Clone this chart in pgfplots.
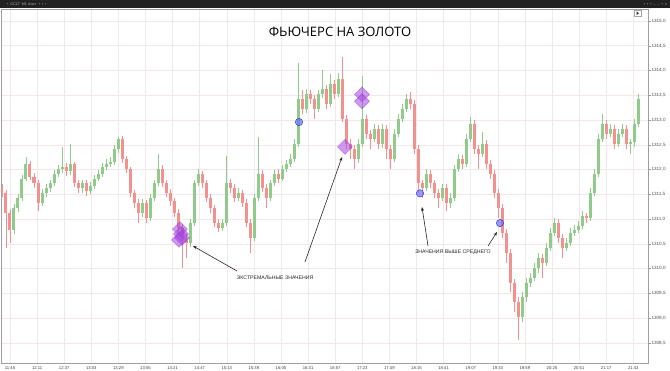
\documentclass[border=0pt]{standalone}
\usepackage{pgfplots}
\pgfplotsset{compat=1.18}
\usepackage{pgfplotstable}
\usetikzlibrary{arrows.meta}
\usepackage{fontspec}
\setmainfont{Liberation Sans}
\newfontfamily\titlefont{Open Sans}
\definecolor{cgreen}{RGB}{145,203,140}
\definecolor{cred}{RGB}{243,145,145}
\definecolor{gridc}{RGB}{243,231,233}
\definecolor{cblue}{RGB}{100,105,245}
\definecolor{cblueD}{RGB}{55,65,215}
\definecolor{cpurp}{RGB}{165,70,225}
\definecolor{cpurpD}{RGB}{140,50,205}
\definecolor{tbar}{RGB}{34,34,34}

\pgfplotstableread{
x O H L C
2 1311.60 1311.70 1311.44 1311.52
6 1311.52 1311.58 1310.42 1311.12
10 1311.12 1311.20 1310.52 1310.78
14 1310.78 1311.30 1310.70 1311.22
18 1311.22 1311.50 1311.14 1311.42
22 1311.42 1311.90 1311.36 1311.82
26 1311.82 1312.26 1311.76 1312.12
30 1312.12 1312.18 1311.78 1311.86
34 1311.86 1311.94 1311.62 1311.72
38 1311.72 1311.78 1311.16 1311.32
42 1311.32 1311.60 1311.26 1311.52
46 1311.52 1311.70 1311.44 1311.62
50 1311.62 1311.80 1311.54 1311.72
54 1311.72 1312.00 1311.66 1311.92
58 1311.92 1312.10 1311.86 1312.02
62 1312.02 1312.46 1311.94 1312.06
66 1312.06 1312.14 1311.88 1311.98
70 1311.98 1312.52 1311.90 1312.12
74 1312.12 1312.16 1311.64 1311.72
78 1311.72 1311.80 1311.52 1311.62
82 1311.62 1311.80 1311.52 1311.72
86 1311.72 1311.78 1311.46 1311.56
90 1311.56 1311.74 1311.50 1311.66
94 1311.66 1311.90 1311.60 1311.82
98 1311.82 1312.00 1311.76 1311.92
102 1311.92 1312.14 1311.86 1312.06
106 1312.06 1312.22 1312.00 1312.12
110 1312.12 1312.26 1312.06 1312.16
114 1312.16 1312.50 1312.10 1312.42
118 1312.42 1312.66 1312.34 1312.62
122 1312.62 1312.68 1312.14 1312.22
126 1312.22 1312.28 1311.94 1312.02
130 1312.02 1312.06 1311.44 1311.52
134 1311.52 1311.58 1311.22 1311.32
138 1311.32 1311.40 1310.92 1311.12
142 1311.12 1311.40 1311.04 1311.32
146 1311.32 1311.38 1310.92 1311.02
150 1311.02 1311.50 1310.96 1311.42
154 1311.42 1311.80 1311.36 1311.72
158 1311.72 1312.32 1311.66 1312.02
162 1312.02 1312.10 1311.64 1311.72
166 1311.72 1311.80 1311.44 1311.52
170 1311.52 1311.60 1311.26 1311.36
174 1311.36 1311.42 1311.04 1311.12
178 1311.12 1311.20 1310.72 1310.82
182 1310.82 1310.90 1310.02 1310.62
186 1310.62 1310.70 1310.22 1310.52
190 1310.52 1311.00 1310.44 1310.92
194 1310.92 1311.80 1310.86 1311.72
198 1311.72 1312.02 1311.66 1311.92
202 1311.92 1311.98 1311.62 1311.72
206 1311.72 1311.80 1311.34 1311.42
210 1311.42 1311.50 1311.12 1311.22
214 1311.22 1311.28 1310.84 1310.92
218 1310.92 1311.00 1310.74 1310.82
222 1310.82 1311.00 1310.76 1310.92
226 1310.92 1312.28 1310.86 1311.72
230 1311.72 1311.82 1311.52 1311.62
234 1311.62 1311.70 1311.34 1311.42
238 1311.42 1311.62 1311.36 1311.52
242 1311.52 1311.58 1311.24 1311.32
246 1311.32 1311.40 1310.84 1310.92
250 1310.92 1311.00 1310.32 1310.62
254 1310.62 1311.50 1310.56 1311.42
258 1311.42 1312.66 1311.36 1311.92
262 1311.92 1312.00 1311.54 1311.62
266 1311.62 1311.70 1311.22 1311.42
270 1311.42 1311.80 1311.36 1311.72
274 1311.72 1312.00 1311.66 1311.92
278 1311.92 1312.02 1311.72 1311.82
282 1311.82 1312.10 1311.76 1312.02
286 1312.02 1312.20 1311.96 1312.12
290 1312.12 1312.32 1312.06 1312.22
294 1312.22 1312.62 1312.16 1312.52
298 1312.52 1314.16 1312.46 1313.42
302 1313.42 1313.60 1313.12 1313.22
306 1313.22 1313.62 1313.14 1313.52
310 1313.52 1313.60 1313.32 1313.42
314 1313.42 1313.50 1313.02 1313.22
318 1313.22 1313.60 1313.16 1313.52
322 1313.52 1314.02 1313.44 1313.62
326 1313.62 1313.70 1313.22 1313.32
330 1313.32 1313.92 1313.26 1313.72
334 1313.72 1313.80 1313.42 1313.52
338 1313.52 1313.96 1313.46 1313.82
342 1313.82 1314.28 1312.96 1313.02
346 1313.02 1313.10 1312.42 1312.52
350 1312.52 1312.62 1312.22 1312.42
354 1312.42 1312.50 1312.02 1312.22
358 1312.22 1312.62 1312.14 1312.52
362 1312.52 1313.88 1312.46 1313.02
366 1313.02 1313.10 1312.62 1312.72
370 1312.72 1312.80 1312.42 1312.62
374 1312.62 1312.92 1312.56 1312.82
378 1312.82 1312.90 1312.42 1312.52
382 1312.52 1312.92 1312.44 1312.82
386 1312.82 1312.90 1312.22 1312.42
390 1312.42 1312.50 1312.02 1312.22
394 1312.22 1312.82 1312.16 1312.72
398 1312.72 1313.12 1312.66 1313.02
402 1313.02 1313.32 1312.96 1313.22
406 1313.22 1313.52 1313.16 1313.42
410 1313.42 1313.56 1313.22 1313.32
414 1313.32 1313.40 1312.32 1312.42
418 1312.42 1312.50 1311.52 1311.72
422 1311.72 1311.80 1311.42 1311.62
426 1311.62 1312.02 1311.56 1311.92
430 1311.92 1312.00 1311.62 1311.72
434 1311.72 1311.80 1311.42 1311.52
438 1311.52 1311.60 1311.22 1311.42
442 1311.42 1311.70 1311.36 1311.62
446 1311.62 1311.70 1311.16 1311.32
450 1311.32 1311.52 1311.22 1311.42
454 1311.42 1312.10 1311.36 1312.02
458 1312.02 1312.32 1311.96 1312.22
462 1312.22 1312.30 1312.02 1312.12
466 1312.12 1312.72 1312.06 1312.62
470 1312.62 1313.06 1312.56 1312.92
474 1312.92 1313.00 1312.32 1312.42
478 1312.42 1312.50 1312.02 1312.32
482 1312.32 1312.76 1312.26 1312.52
486 1312.52 1312.60 1312.02 1312.12
490 1312.12 1312.20 1311.82 1311.92
494 1311.92 1312.00 1311.42 1311.52
498 1311.52 1311.60 1311.02 1311.22
502 1311.22 1311.30 1310.62 1310.72
506 1310.72 1310.80 1310.12 1310.32
510 1310.32 1310.40 1309.52 1309.72
514 1309.72 1309.80 1309.12 1309.32
518 1309.32 1309.42 1308.56 1309.02
522 1309.02 1309.52 1308.92 1309.42
526 1309.42 1309.82 1309.32 1309.72
530 1309.72 1309.92 1309.62 1309.82
534 1309.82 1310.12 1309.76 1310.02
538 1310.02 1310.32 1309.92 1310.22
542 1310.22 1310.30 1309.82 1310.12
546 1310.12 1310.52 1310.06 1310.42
550 1310.42 1310.82 1310.36 1310.72
554 1310.72 1311.02 1310.66 1310.92
558 1310.92 1311.00 1310.52 1310.62
562 1310.62 1310.70 1310.22 1310.42
566 1310.42 1310.62 1310.36 1310.52
570 1310.52 1310.82 1310.46 1310.72
574 1310.72 1310.88 1310.66 1310.78
578 1310.78 1310.96 1310.72 1310.86
582 1310.86 1311.16 1310.80 1311.06
586 1311.06 1311.12 1310.92 1311.02
590 1311.02 1311.62 1310.96 1311.52
594 1311.52 1312.02 1311.46 1311.92
598 1311.92 1312.72 1311.86 1312.62
602 1312.62 1313.12 1312.56 1312.92
606 1312.92 1313.00 1312.62 1312.72
610 1312.72 1312.92 1312.66 1312.82
614 1312.82 1312.90 1312.42 1312.52
618 1312.52 1312.82 1312.46 1312.72
622 1312.72 1312.92 1312.66 1312.82
626 1312.82 1312.90 1312.42 1312.52
630 1312.52 1312.62 1312.32 1312.56
634 1312.56 1313.02 1312.46 1312.92
638 1312.92 1313.52 1312.86 1313.42
}\candles

\begin{document}
\begin{tikzpicture}
\begin{axis}[
  at={(0,0)}, anchor=south west,
  scale only axis, width=647pt, height=354pt,
  xmin=1, xmax=648, ymin=1308.096, ymax=1315.242,
  axis line style={draw=gray!75, line width=0.7pt},
  grid=major,
  major grid style={draw=gridc, line width=0.6pt},
  xtick={10,37.1,64.2,91.3,118.4,145.5,172.6,199.7,226.8,253.9,281,308.1,335.2,362.3,389.4,416.5,443.6,470.7,497.8,524.9,552,579.1,606.2,633.3},
  xticklabels={11:45,12:11,12:37,13:03,13:29,13:55,14:21,14:47,15:13,15:39,16:05,16:31,16:57,17:23,17:49,18:15,18:41,19:07,19:33,19:59,20:25,20:51,21:17,21:43},
  ytick={1308.5,1309,1309.5,1310,1310.5,1311,1311.5,1312,1312.5,1313,1313.5,1314,1314.5,1315},
  xtick pos=bottom, ytick pos=right, yticklabel pos=right,
  tick align=outside, major tick length=2.5pt,
  major x tick style={draw=none},
  major y tick style={draw=gray!80, line width=0.4pt},
  x tick label style={font=\fontsize{4.2}{4.2}\selectfont, text=black!75, inner sep=1pt},
  y tick label style={font=\fontsize{4.6}{4.6}\selectfont, text=black!70, inner sep=0.8pt},
  /pgf/number format/.cd, fixed, fixed zerofill, precision=1, use comma, 1000 sep={}, assume math mode=true,
]
% wicks
\addplot[draw=none, mark=none, forget plot, error bars/.cd, y dir=plus, y explicit, error mark=none,
  error bar style={draw=cgreen, line width=0.9pt}]
  table[x=x, y expr={\thisrow{C}>=\thisrow{O} ? \thisrow{L} : nan}, y error plus expr={\thisrow{H}-\thisrow{L}}] {\candles};
\addplot[draw=none, mark=none, forget plot, error bars/.cd, y dir=plus, y explicit, error mark=none,
  error bar style={draw=cred, line width=0.9pt}]
  table[x=x, y expr={\thisrow{C}<\thisrow{O} ? \thisrow{L} : nan}, y error plus expr={\thisrow{H}-\thisrow{L}}] {\candles};
% bodies
\addplot[draw=none, mark=none, forget plot, error bars/.cd, y dir=plus, y explicit, error mark=none,
  error bar style={draw=cgreen, line width=3pt}]
  table[x=x, y expr={\thisrow{C}>=\thisrow{O} ? \thisrow{O} : nan}, y error plus expr={\thisrow{C}-\thisrow{O}}] {\candles};
\addplot[draw=none, mark=none, forget plot, error bars/.cd, y dir=plus, y explicit, error mark=none,
  error bar style={draw=cred, line width=3pt}]
  table[x=x, y expr={\thisrow{C}<\thisrow{O} ? \thisrow{C} : nan}, y error plus expr={\thisrow{O}-\thisrow{C}}] {\candles};
% diamonds (extreme values)
\addplot[only marks, mark=square*, mark size=5.3pt,
  mark options={rotate=45, fill=cpurp, fill opacity=0.55, draw=cpurpD, draw opacity=0.6, line width=0.4pt}]
  coordinates {(180,1310.80) (181,1310.70) (179,1310.58) (182,1310.62) (345,1312.46) (362,1313.52) (362,1313.38)};
% circles (above average)
\addplot[only marks, mark=*, mark size=3.7pt,
  mark options={fill=cblue, fill opacity=0.65, draw=cblueD, line width=0.5pt}]
  coordinates {(299,1312.96) (420,1311.52) (500,1310.92)};
\end{axis}
% top toolbar
\fill[tbar] (-1pt,354.6pt) rectangle (669pt,363pt);
\node[anchor=west, text=gray!60, font=\fontsize{3.6}{3.6}\selectfont, inner sep=0pt] at (6pt,358.8pt) {\textbullet\ \ GC27 \ M1 chart \ \ \textbullet\ \ \textbullet\ \ \textbullet};
\node[anchor=east, text=gray!60, font=\fontsize{3.6}{3.6}\selectfont, inner sep=0pt] at (666pt,358.8pt) {\textbullet\ \ \textbullet\ \ \textbullet\ \ -- \ -- \ \textbullet\ \ x};
\draw[gray!70, line width=0.4pt, fill=white] (633.5pt,346.5pt) rectangle (640pt,353pt);
\fill[black!80] (635.5pt,347.8pt) -- (635.5pt,351.7pt) -- (638pt,349.75pt) -- cycle;
% title
\node[font=\titlefont\fontsize{13}{13}\selectfont, text=black] at (339pt,331.5pt) {ФЬЮЧЕРС НА ЗОЛОТО};
% annotations
\node[font=\fontsize{5.2}{5.2}\selectfont, text=black!85] at (274pt,85.5pt) {ЭКСТРЕМАЛЬНЫЕ ЗНАЧЕНИЯ};
\node[font=\fontsize{5.2}{5.2}\selectfont, text=black!85] at (452pt,110.5pt) {ЗНАЧЕНИЯ ВЫШЕ СРЕДНЕГО};
\draw[-{Stealth[length=4pt,width=3pt]}, line width=0.6pt, black!85] (236pt,92pt) -- (192pt,117pt);
\draw[-{Stealth[length=4pt,width=3pt]}, line width=0.6pt, black!85] (304pt,101pt) -- (341pt,206pt);
\draw[-{Stealth[length=4pt,width=3pt]}, line width=0.6pt, black!85] (427pt,117pt) -- (421pt,156pt);
\draw[-{Stealth[length=4pt,width=3pt]}, line width=0.6pt, black!85] (487pt,117pt) -- (496pt,131pt);
\pgfresetboundingbox
\path (-1pt,-8pt) rectangle (669pt,363pt);
\end{tikzpicture}
\end{document}
